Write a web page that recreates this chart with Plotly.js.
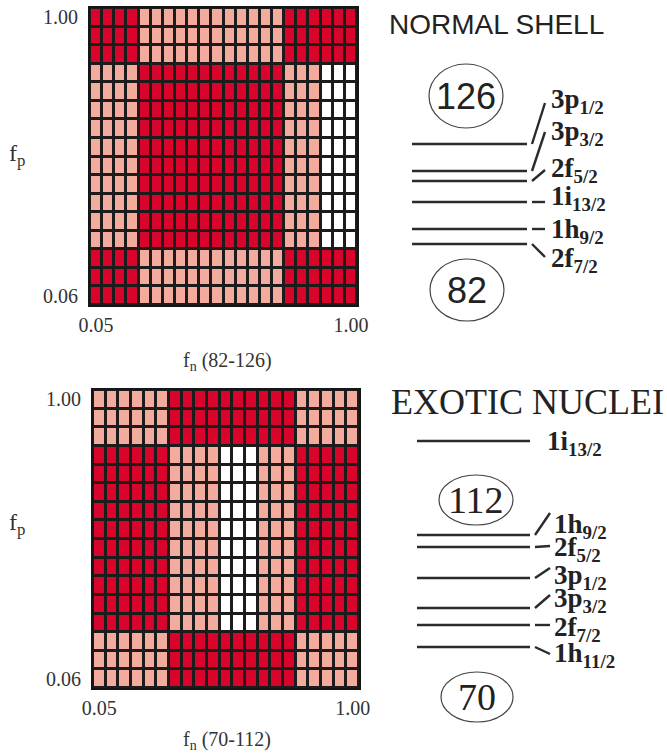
<!DOCTYPE html>
<html>
<head>
<meta charset="utf-8">
<script src="https://cdn.plot.ly/plotly-3.0.1.min.js"></script>
<style>
  html, body { margin: 0; padding: 0; background: #ffffff; }
  #chart { width: 667px; height: 753px; }
</style>
</head>
<body>
<div id="chart"></div>
<script>
// ---------- data ----------
// Cell classes: 0 = empty (white), 1 = partly filled (light), 2 = filled (dark)

// Normal shell, N = 82-126 : 22 columns (f_n), 16 rows (f_p)
const normalXTicks = ['0.05', '1.00'];
const normalYTicks = ['0.06', '1.00'];
const normalEdgeRow = [2,2,2,2,1,1,1,1,1,1,1,1,1,1,1,1,2,2,2,2,2,2];
const normalCoreRow = [1,1,1,1,2,2,2,2,2,2,2,2,2,2,2,2,1,1,1,0,0,0];
const normalRowKinds = ['edge','edge','edge',
  'core','core','core','core','core','core','core','core','core','core',
  'edge','edge','edge'];

// Exotic nuclei, N = 70-112 : 21 columns (f_n), 16 rows (f_p)
const exoticXTicks = ['0.05', '1.00'];
const exoticYTicks = ['0.06', '1.00'];
const exoticEdgeRow = [1,1,1,1,1,1,2,2,2,2,2,2,2,2,2,2,1,1,1,1,1];
const exoticCoreRow = [2,2,2,2,2,2,1,1,1,1,0,0,0,1,1,1,2,2,2,2,2];
const exoticRowKinds = ['edge','edge','edge',
  'core','core','core','core','core','core','core','core','core','core',
  'edge','edge','edge'];

// Single-particle levels (schematic energies, arbitrary units, higher = less bound)
const normalOrbitals = ['3p', '3p', '2f', '1i', '1h', '2f'];
const normalJ        = ['1/2', '3/2', '5/2', '13/2', '9/2', '7/2'];
const normalEnergy   = [186, 159, 149, 128, 101, 86];
const normalMagic    = ['126', '82'];

const exoticOrbitals = ['1i', '1h', '2f', '3p', '3p', '2f', '1h'];
const exoticJ        = ['13/2', '9/2', '5/2', '1/2', '3/2', '7/2', '11/2'];
const exoticEnergy   = [312, 218, 206, 175, 145, 128, 106];
const exoticMagic    = ['112', '70'];

// ---------- layout helpers ----------
const W = 667, H = 753;
const px = v => v / W;
const py = v => 1 - v / H;

const SERIF = 'Liberation Serif, Times New Roman, serif';
const SANS = 'Liberation Sans, Arial, sans-serif';
const INK = '#222222';

const CELL_DARK = '#d9042b';
const CELL_LIGHT = '#f2ab9d';
const CELL_EMPTY = '#ffffff';
const colorscale = [
  [0, CELL_EMPTY], [0.25, CELL_EMPTY],
  [0.25, CELL_LIGHT], [0.75, CELL_LIGHT],
  [0.75, CELL_DARK], [1, CELL_DARK]
];

const buildGrid = (kinds, edge, core) => kinds.map(k => (k === 'edge' ? edge : core));

const normalZ = buildGrid(normalRowKinds, normalEdgeRow, normalCoreRow);
const exoticZ = buildGrid(exoticRowKinds, exoticEdgeRow, exoticCoreRow);

const gridAxis = {
  showgrid: false, zeroline: false, showline: true, mirror: true,
  linecolor: '#151515', linewidth: 2, ticks: '',
  tickfont: { family: SERIF, size: 20, color: '#333333' },
  fixedrange: true
};

const heat = (z, xa, ya) => ({
  type: 'heatmap', z: z, xaxis: xa, yaxis: ya,
  colorscale: colorscale, zmin: 0, zmax: 2, showscale: false,
  xgap: 3, ygap: 3, hoverinfo: 'skip'
});

// Level diagram placement (axis units of the diagram panels)
const normalDiagram = {
  xa: 'x3', ya: 'y3',
  lineX: [412, 527], connX: [532, 545], labelX: 549,
  labelY: [229, 197, 160, 132, 99, 70],
  connY:  [227, 198, 160, 128, 101, 73],
  magicX: [466, 467], magicY: [234, 40], magicR: [[37, 32], [37, 31]],
  magicFont: SANS, magicSize: 36
};
const exoticDiagram = {
  xa: 'x4', ya: 'y4',
  lineX: [417, 530], connX: [535, 550], labelX: 552, firstLabelX: 545,
  labelY: [310, 227, 204, 176, 153, 124, 98],
  connY:  [null, 240, 207, 185, 158, 128, 99],
  magicX: [476, 477], magicY: [253, 56], magicR: [[37, 25], [36, 25]],
  magicFont: SERIF, magicSize: 38
};

const traces = [
  heat(normalZ, 'x', 'y'),
  heat(exoticZ, 'x2', 'y2')
];
const annotations = [];
const shapes = [
  // dark backing that shows between the cells
  { type: 'rect', xref: 'x domain', yref: 'y domain', x0: 0, x1: 1, y0: 0, y1: 1,
    fillcolor: '#1c1c1c', line: { width: 0 }, layer: 'below' },
  { type: 'rect', xref: 'x2 domain', yref: 'y2 domain', x0: 0, x1: 1, y0: 0, y1: 1,
    fillcolor: '#1c1c1c', line: { width: 0 }, layer: 'below' }
];

function addDiagram(spec, orbitals, jValues, energy, magic) {
  const lx = [], ly = [];
  energy.forEach((e, i) => {
    lx.push(spec.lineX[0], spec.lineX[1], null);
    ly.push(e, e, null);
    if (spec.connY[i] !== null) {
      lx.push(spec.connX[0], spec.connX[1], null);
      ly.push(e, spec.connY[i], null);
    }
    const x0 = (i === 0 && spec.firstLabelX) ? spec.firstLabelX : spec.labelX;
    annotations.push({
      xref: spec.xa, yref: spec.ya, x: x0, y: spec.labelY[i],
      xanchor: 'left', yanchor: 'middle', showarrow: false,
      text: '<b>' + orbitals[i] + '<sub>' + jValues[i] + '</sub></b>',
      font: { family: SERIF, size: 27, color: INK }
    });
  });
  traces.push({
    type: 'scatter', mode: 'lines', x: lx, y: ly,
    xaxis: spec.xa, yaxis: spec.ya,
    line: { color: '#2b2b2b', width: 2.4 },
    hoverinfo: 'skip', showlegend: false, connectgaps: false
  });
  magic.forEach((m, i) => {
    const cx = spec.magicX[i], cy = spec.magicY[i];
    const [rx, ry] = spec.magicR[i];
    shapes.push({
      type: 'circle', xref: spec.xa, yref: spec.ya,
      x0: cx - rx, x1: cx + rx, y0: cy - ry, y1: cy + ry,
      line: { color: '#444444', width: 1.2 }
    });
    annotations.push({
      xref: spec.xa, yref: spec.ya, x: cx, y: cy,
      xanchor: 'center', yanchor: 'middle', showarrow: false,
      text: m, font: { family: spec.magicFont, size: spec.magicSize, color: INK }
    });
  });
}

addDiagram(normalDiagram, normalOrbitals, normalJ, normalEnergy, normalMagic);
addDiagram(exoticDiagram, exoticOrbitals, exoticJ, exoticEnergy, exoticMagic);

// Panel headings and axis captions
annotations.push(
  { xref: 'x3', yref: 'y3', x: 387, y: 306, xanchor: 'left', yanchor: 'middle',
    showarrow: false, text: 'NORMAL SHELL',
    font: { family: SANS, size: 28, color: INK } },
  { xref: 'x4', yref: 'y4', x: 389, y: 351, xanchor: 'left', yanchor: 'middle',
    showarrow: false, text: 'EXOTIC NUCLEI',
    font: { family: SERIF, size: 36, color: INK } },
  { xref: 'paper', yref: 'paper', x: px(17), y: py(155), xanchor: 'center', yanchor: 'middle',
    showarrow: false, text: 'f<sub>p</sub>', font: { family: SERIF, size: 24, color: '#333' } },
  { xref: 'paper', yref: 'paper', x: px(227), y: py(361), xanchor: 'center', yanchor: 'middle',
    showarrow: false, text: 'f<sub>n</sub> (82-126)', font: { family: SERIF, size: 20, color: '#333' } },
  { xref: 'paper', yref: 'paper', x: px(17), y: py(524), xanchor: 'center', yanchor: 'middle',
    showarrow: false, text: 'f<sub>p</sub>', font: { family: SERIF, size: 24, color: '#333' } },
  { xref: 'paper', yref: 'paper', x: px(227), y: py(740), xanchor: 'center', yanchor: 'middle',
    showarrow: false, text: 'f<sub>n</sub> (70-112)', font: { family: SERIF, size: 20, color: '#333' } }
);

const hidden = { visible: false, showgrid: false, zeroline: false, fixedrange: true };

const layout = {
  width: W, height: H,
  margin: { l: 0, r: 0, t: 0, b: 0 },
  paper_bgcolor: '#ffffff', plot_bgcolor: '#ffffff',
  showlegend: false,
  xaxis: Object.assign({}, gridAxis, {
    domain: [px(90), px(357)], range: [-0.5, 21.5], anchor: 'y',
    tickvals: [0, 21], ticktext: normalXTicks, ticklabelstandoff: 1 }),
  yaxis: Object.assign({}, gridAxis, {
    domain: [py(305), py(8)], range: [-0.5, 15.5], anchor: 'x',
    tickvals: [0, 15], ticktext: normalYTicks, ticklabelstandoff: 6 }),
  xaxis2: Object.assign({}, gridAxis, {
    domain: [px(93), px(359)], range: [-0.5, 20.5], anchor: 'y2',
    tickvals: [0, 20], ticktext: exoticXTicks, ticklabelstandoff: 1 }),
  yaxis2: Object.assign({}, gridAxis, {
    domain: [py(688), py(390)], range: [-0.5, 15.5], anchor: 'x2',
    tickvals: [0, 15], ticktext: exoticYTicks, ticklabelstandoff: 6 }),
  xaxis3: Object.assign({}, hidden, { domain: [px(367), 1], range: [367, 667], anchor: 'y3' }),
  yaxis3: Object.assign({}, hidden, { domain: [py(330), 1], range: [0, 330], anchor: 'x3' }),
  xaxis4: Object.assign({}, hidden, { domain: [px(367), 1], range: [367, 667], anchor: 'y4' }),
  yaxis4: Object.assign({}, hidden, { domain: [0, py(370)], range: [0, 383], anchor: 'x4' }),
  shapes: shapes,
  annotations: annotations
};

Plotly.newPlot('chart', traces, layout, { displayModeBar: false, staticPlot: true });
</script>
</body>
</html>
